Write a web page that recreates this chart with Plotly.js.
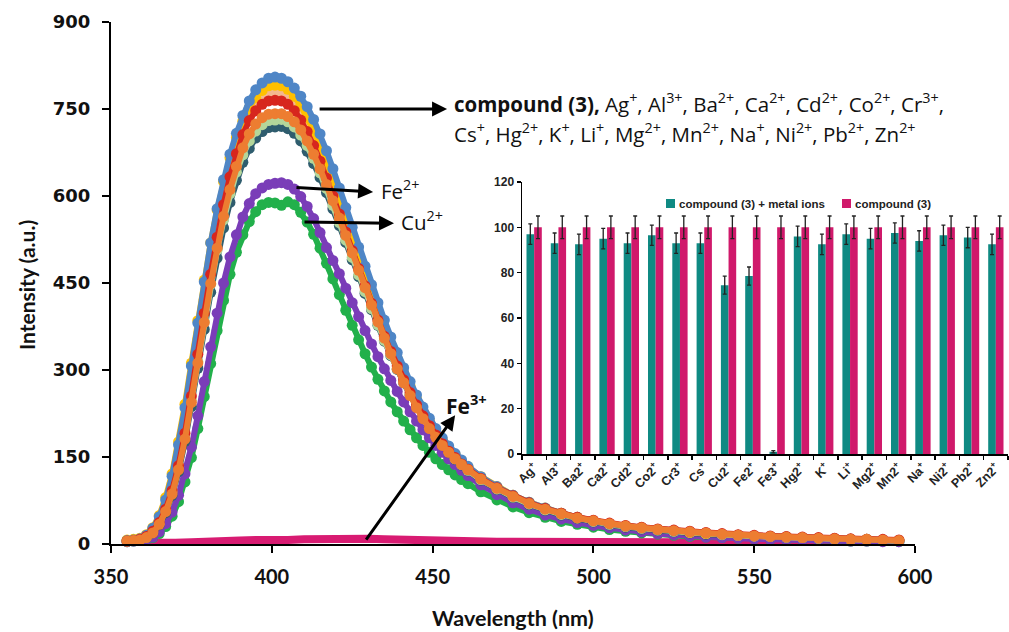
<!DOCTYPE html>
<html>
<head>
<meta charset="utf-8">
<script src="https://cdn.plot.ly/plotly-3.0.1.min.js"></script>
<style>html,body{margin:0;padding:0;background:#fff}#chart{width:1009px;height:632px}</style>
</head>
<body>
<div id="chart"></div>
<script>
// ---------- Main emission spectra (wavelength in nm, intensity a.u.) ----------
const wl = [355,357,359,361,363,365,367,369,371,373,375,377,379,381,383,385,387,389,391,393,395,397,399,401,
  403,405,407,409,411,413,415,417,419,421,423,425,427,429,431,433,435,437,439,441,443,445,447,449,451,453,455,457,459,461,
  465,470,475,480,485,490,495,500,505,510,515,520,525,530,535,540,545,550,555,560,565,570,575,580,585,590,595];

const compound3 = [6,7,9,15,27,47,76,117,171,235,307,381,452,519,578,628,672,708,739,764,783,795,803,805,
  803,797,786,772,754,732,707,678,647,614,580,546,512,479,447,416,386,357,330,304,280,257,236,217,199,183,169,156,145,134,
  116,99,84,72,62,53,46,40,35,31,28,25,23,21,19,17,15,14,13,12,11,10,9,8,8,7,6];
const ionSetYellow = [7,8,10,16,28,49,80,121,176,241,312,385,455,519,576,625,666,701,729,752,770,782,790,791,
  790,784,772,756,736,712,685,656,625,593,560,527,494,462,431,401,372,345,319,295,272,250,230,212,195,180,166,154,143,133,
  116,99,84,72,62,53,46,40,35,31,28,25,23,20,18,17,15,14,13,12,11,10,9,8,8,7,6];
const ionSetPeach = [6,7,9,14,25,42,68,104,153,212,280,352,422,489,549,602,646,684,715,739,758,770,777,778,
  777,771,760,744,724,700,673,644,613,581,549,516,484,453,422,393,365,338,313,289,266,245,226,208,192,177,164,152,141,131,
  115,98,84,71,61,53,46,40,35,31,28,25,23,21,19,17,15,14,13,12,11,10,9,8,8,7,6];
const ionSetLightGreen = [5,6,8,12,21,36,59,91,134,186,248,315,383,448,507,559,604,641,671,695,712,723,730,731,
  732,728,719,705,687,665,640,613,584,554,524,494,464,435,406,378,351,326,302,279,258,238,219,202,186,172,159,147,137,127,
  111,95,81,69,59,51,45,39,34,30,27,24,22,20,18,16,15,14,13,12,11,10,9,8,7,7,6];
const ionSetSlate = [5,6,8,11,19,33,54,84,125,177,237,303,370,434,493,545,589,627,658,682,700,711,718,719,
  720,716,708,695,677,656,632,606,578,549,520,490,461,432,404,377,350,325,301,278,257,237,218,201,185,171,158,146,136,126,
  110,94,80,68,58,50,44,38,33,29,26,23,21,19,17,16,15,14,13,12,11,10,9,8,7,7,6];
const ionSetRed = [5,6,8,13,22,37,60,92,135,191,255,327,398,465,529,585,633,673,706,730,747,758,764,765,
  764,758,747,731,711,687,660,631,600,569,538,506,475,445,415,386,358,332,307,283,261,240,221,204,188,173,160,149,138,129,
  113,97,83,71,61,53,46,41,36,32,29,26,24,22,20,18,16,15,14,13,12,11,10,9,8,8,7];
const ionSetOrange = [5,6,7,11,19,34,56,86,128,181,244,312,382,449,510,565,611,651,683,707,724,735,741,742,
  742,737,728,714,695,672,647,620,592,562,532,502,472,442,412,383,355,328,302,278,256,235,216,199,184,170,158,147,137,128,
  112,96,82,70,60,52,45,40,35,31,28,25,23,21,19,17,15,14,13,12,11,10,9,8,8,7,6];
const fe2 = [4,5,6,8,12,21,35,55,84,121,167,221,280,340,398,450,495,533,564,587,604,614,620,622,
  623,620,612,599,582,561,537,511,489,466,441,416,392,368,345,323,302,282,263,245,228,212,197,183,170,158,147,137,127,118,
  102,85,71,60,50,43,37,32,28,24,21,18,16,14,12,11,10,9,8,7,7,6,6,5,5,4,4];
const cu2 = [4,5,6,7,11,18,30,48,73,107,149,199,254,311,368,420,465,503,533,556,573,585,589,588,
  584,590,585,572,555,534,510,484,457,430,403,377,352,328,305,284,264,245,228,212,197,183,170,158,147,137,128,119,111,104,
  90,76,64,54,46,39,34,29,25,22,19,17,15,13,12,11,10,9,8,7,7,6,6,5,5,5,4];
const fe3Wl = [355,360,365,370,375,380,385,390,395,400,405,410,415,420,425,430,435,440,445,450,455,460,465,470,475,
  480,485,490,495,500,505,510,515,520,525,530,535,540,545,550,555,560,565,570,575,580,585,590,595];
const fe3 = [2,1,1,2,3,3,5,6,7,6,7,8,9,10,10,9,8,7,6,6,5,5,5,4,4,4,4,4,4,4,3,3,3,3,3,3,3,3,3,3,3,3,2,2,2,2,2,2,2];

// ---------- Inset bar chart ----------
const ionLabels = ['Ag<sup>+</sup>','Al3<sup>+</sup>','Ba2<sup>+</sup>','Ca2<sup>+</sup>','Cd2<sup>+</sup>','Co2<sup>+</sup>','Cr3<sup>+</sup>','Cs<sup>+</sup>','Cu2<sup>+</sup>','Fe2<sup>+</sup>',
  'Fe3<sup>+</sup>','Hg2<sup>+</sup>','K<sup>+</sup>','Li<sup>+</sup>','Mg2<sup>+</sup>','Mn2<sup>+</sup>','Na<sup>+</sup>','Ni2<sup>+</sup>','Pb2<sup>+</sup>','Zn2<sup>+</sup>'];
const withMetal = [97,93,92.5,95,93,96.5,93,93,74.5,78.5,1,96,92.5,97,95,97.5,94,96.5,95.5,92.5];
const withMetalErr = [4.5,4.5,4.5,4.5,4.5,4.5,4.5,4.5,4,4,0.5,4.5,4.5,4.5,4.5,4.5,4.5,4.5,4.5,4.5];
const compoundOnly = [100,100,100,100,100,100,100,100,100,100,100,100,100,100,100,100,100,100,100,100];
const compoundOnlyErr = [5,5,5,5,5,5,5,5,5,5,5,5,5,5,5,5,5,5,5,5];
const legendNames = ['compound (3) + metal ions', 'compound (3)'];

const tealColor = '#0f8a83', pinkColor = '#d0196b';

const curveSpecs = [
  {y: cu2, color: '#22b04b'},
  {y: fe2, color: '#7a3db8'},
  {y: ionSetSlate, color: '#2f5d6e'},
  {y: ionSetLightGreen, color: '#b4d69a'},
  {y: ionSetPeach, color: '#f4b78f'},
  {y: ionSetYellow, color: '#ffc000'},
  {y: compound3, color: '#4f86c6'},
  {y: ionSetRed, color: '#d7261e'},
  {y: ionSetOrange, color: '#ed7d31'}
];

const traces = [{
  x: fe3Wl, y: fe3, type: 'scatter', mode: 'lines',
  line: {color: '#d81b72', width: 8}, showlegend: false, cliponaxis: false, hoverinfo: 'skip'
}];
curveSpecs.forEach(s => traces.push({
  x: wl, y: s.y, type: 'scatter', mode: 'lines+markers',
  line: {color: s.color, width: 6},
  marker: {color: s.color, size: 11, line: {width: 0}},
  showlegend: false, cliponaxis: false, hoverinfo: 'skip'
}));
traces.push({
  x: ionLabels, y: withMetal, type: 'bar', name: legendNames[0], showlegend: false,
  xaxis: 'x2', yaxis: 'y2', marker: {color: tealColor},
  error_y: {type: 'data', array: withMetalErr, visible: true, color: '#222', thickness: 1.3, width: 2}
});
traces.push({
  x: ionLabels, y: compoundOnly, type: 'bar', name: legendNames[1], showlegend: false,
  xaxis: 'x2', yaxis: 'y2', marker: {color: pinkColor},
  error_y: {type: 'data', array: compoundOnlyErr, visible: true, color: '#222', thickness: 1.3, width: 2}
});

const W = 1009, H = 632;
const px = v => v / W, py = v => 1 - v / H;
const txtFont = {family: '"Open Sans", Lato, sans-serif', size: 20.5, color: '#111'};
const insetFont = {family: '"Liberation Sans", Arial, sans-serif', size: 11.5, weight: 'bold', color: '#222'};

const layout = {
  width: W, height: H,
  margin: {l: 0, r: 0, t: 0, b: 0},
  paper_bgcolor: '#fff', plot_bgcolor: 'rgba(0,0,0,0)',
  showlegend: false,
  barmode: 'group', bargap: 0.37, bargroupgap: 0,
  xaxis: {
    domain: [px(111), px(915)], range: [350, 600], tick0: 350, dtick: 50,
    ticks: 'outside', ticklen: 7, tickwidth: 2, tickcolor: '#000', ticklabelstandoff: 7,
    showline: true, linewidth: 2, linecolor: '#000', showgrid: false, zeroline: false,
    tickfont: {family: 'Lato, sans-serif', size: 20, weight: 'bold', color: '#111'},
    automargin: false, fixedrange: true
  },
  yaxis: {
    domain: [py(544), py(22)], range: [0, 900], tick0: 0, dtick: 150,
    ticks: 'outside', ticklen: 7, tickwidth: 2, tickcolor: '#000', ticklabelstandoff: 8,
    showline: true, linewidth: 2, linecolor: '#000', showgrid: false, zeroline: false,
    tickfont: {family: '"DejaVu Sans", sans-serif', size: 18, weight: 'bold', color: '#111'},
    automargin: false, fixedrange: true
  },
  xaxis2: {
    domain: [px(522), px(1008)], anchor: 'y2', type: 'category',
    ticks: 'outside', tickson: 'boundaries', ticklen: 4, tickwidth: 1.5, tickcolor: '#000',
    showline: true, linewidth: 1.5, linecolor: '#000', showgrid: false, zeroline: false,
    tickangle: -45,
    tickfont: {family: '"Liberation Sans", Arial, sans-serif', size: 12.5, weight: 'bold', color: '#222'},
    automargin: false, fixedrange: true
  },
  yaxis2: {
    domain: [py(454), py(182)], anchor: 'x2', range: [0, 120], dtick: 20,
    ticks: 'outside', ticklen: 4, tickwidth: 1.5, tickcolor: '#000',
    showline: true, linewidth: 1.5, linecolor: '#000', showgrid: false, zeroline: false,
    tickfont: {family: '"Liberation Sans", Arial, sans-serif', size: 12, weight: 'bold', color: '#222'},
    automargin: false, fixedrange: true
  },
  shapes: [
    {type: 'rect', xref: 'paper', yref: 'paper', x0: px(666), x1: px(675), y0: py(208), y1: py(199),
     fillcolor: tealColor, line: {width: 0}},
    {type: 'rect', xref: 'paper', yref: 'paper', x0: px(842), x1: px(851), y0: py(208), y1: py(199),
     fillcolor: pinkColor, line: {width: 0}}
  ],
  annotations: [
    // inset legend texts
    {xref: 'paper', yref: 'paper', x: px(677), y: py(203.5), xanchor: 'left', yanchor: 'middle', showarrow: false,
     text: legendNames[0], font: insetFont},
    {xref: 'paper', yref: 'paper', x: px(853), y: py(203.5), xanchor: 'left', yanchor: 'middle', showarrow: false,
     text: legendNames[1], font: insetFont},
    // axis titles
    {xref: 'paper', yref: 'paper', x: px(26), y: py(285), xanchor: 'center', yanchor: 'middle',
     text: 'Intensity (a.u.)', showarrow: false,
     textangle: -90, font: {family: 'Lato, sans-serif', size: 21, weight: 'bold', color: '#111'}},
    {xref: 'paper', yref: 'paper', x: px(513), y: py(618), xanchor: 'center', yanchor: 'middle',
     text: 'Wavelength (nm)', showarrow: false,
     font: {family: 'Lato, sans-serif', size: 21.5, weight: 'bold', color: '#111'}},
    // arrows (head at x,y; tail at ax,ay in data units)
    {xref: 'x', yref: 'y', axref: 'x', ayref: 'y', x: 454.5, y: 750, ax: 414.4, ay: 750, text: '',
     showarrow: true, arrowhead: 2, arrowsize: 1, arrowwidth: 3, arrowcolor: '#000'},
    {xref: 'x', yref: 'y', axref: 'x', ayref: 'y', x: 431.5, y: 607, ax: 407.2, ay: 615, text: '',
     showarrow: true, arrowhead: 2, arrowsize: 1, arrowwidth: 3, arrowcolor: '#000'},
    {xref: 'x', yref: 'y', axref: 'x', ayref: 'y', x: 438, y: 553, ax: 409.7, ay: 555, text: '',
     showarrow: true, arrowhead: 2, arrowsize: 1, arrowwidth: 3, arrowcolor: '#000'},
    {xref: 'x', yref: 'y', axref: 'x', ayref: 'y', x: 457, y: 222, ax: 429, ay: 5, text: '',
     showarrow: true, arrowhead: 2, arrowsize: 1, arrowwidth: 3, arrowcolor: '#000'},
    // labels
    {xref: 'paper', yref: 'paper', x: px(452), y: py(103), xanchor: 'left', yanchor: 'middle', showarrow: false,
     text: '<b>compound (3),</b> Ag<sup>+</sup>, Al<sup>3+</sup>, Ba<sup>2+</sup>, Ca<sup>2+</sup>, Cd<sup>2+</sup>, Co<sup>2+</sup>, Cr<sup>3+</sup>,',
     font: txtFont},
    {xref: 'paper', yref: 'paper', x: px(452), y: py(133), xanchor: 'left', yanchor: 'middle', showarrow: false,
     text: 'Cs<sup>+</sup>, Hg<sup>2+</sup>, K<sup>+</sup>, Li<sup>+</sup>, Mg<sup>2+</sup>, Mn<sup>2+</sup>, Na<sup>+</sup>, Ni<sup>2+</sup>, Pb<sup>2+</sup>, Zn<sup>2+</sup>',
     font: txtFont},
    {xref: 'paper', yref: 'paper', x: px(379), y: py(190), xanchor: 'left', yanchor: 'middle', showarrow: false,
     text: 'Fe<sup>2+</sup>', font: txtFont},
    {xref: 'paper', yref: 'paper', x: px(399), y: py(221), xanchor: 'left', yanchor: 'middle', showarrow: false,
     text: 'Cu<sup>2+</sup>', font: txtFont},
    {xref: 'paper', yref: 'paper', x: px(444), y: py(404), xanchor: 'left', yanchor: 'middle', showarrow: false,
     text: '<b>Fe<sup>3+</sup></b>', font: {family: '"Open Sans", Lato, sans-serif', size: 21, color: '#111'}}
  ]
};

Plotly.newPlot('chart', traces, layout, {displayModeBar: false, staticPlot: true});
</script>
</body>
</html>
